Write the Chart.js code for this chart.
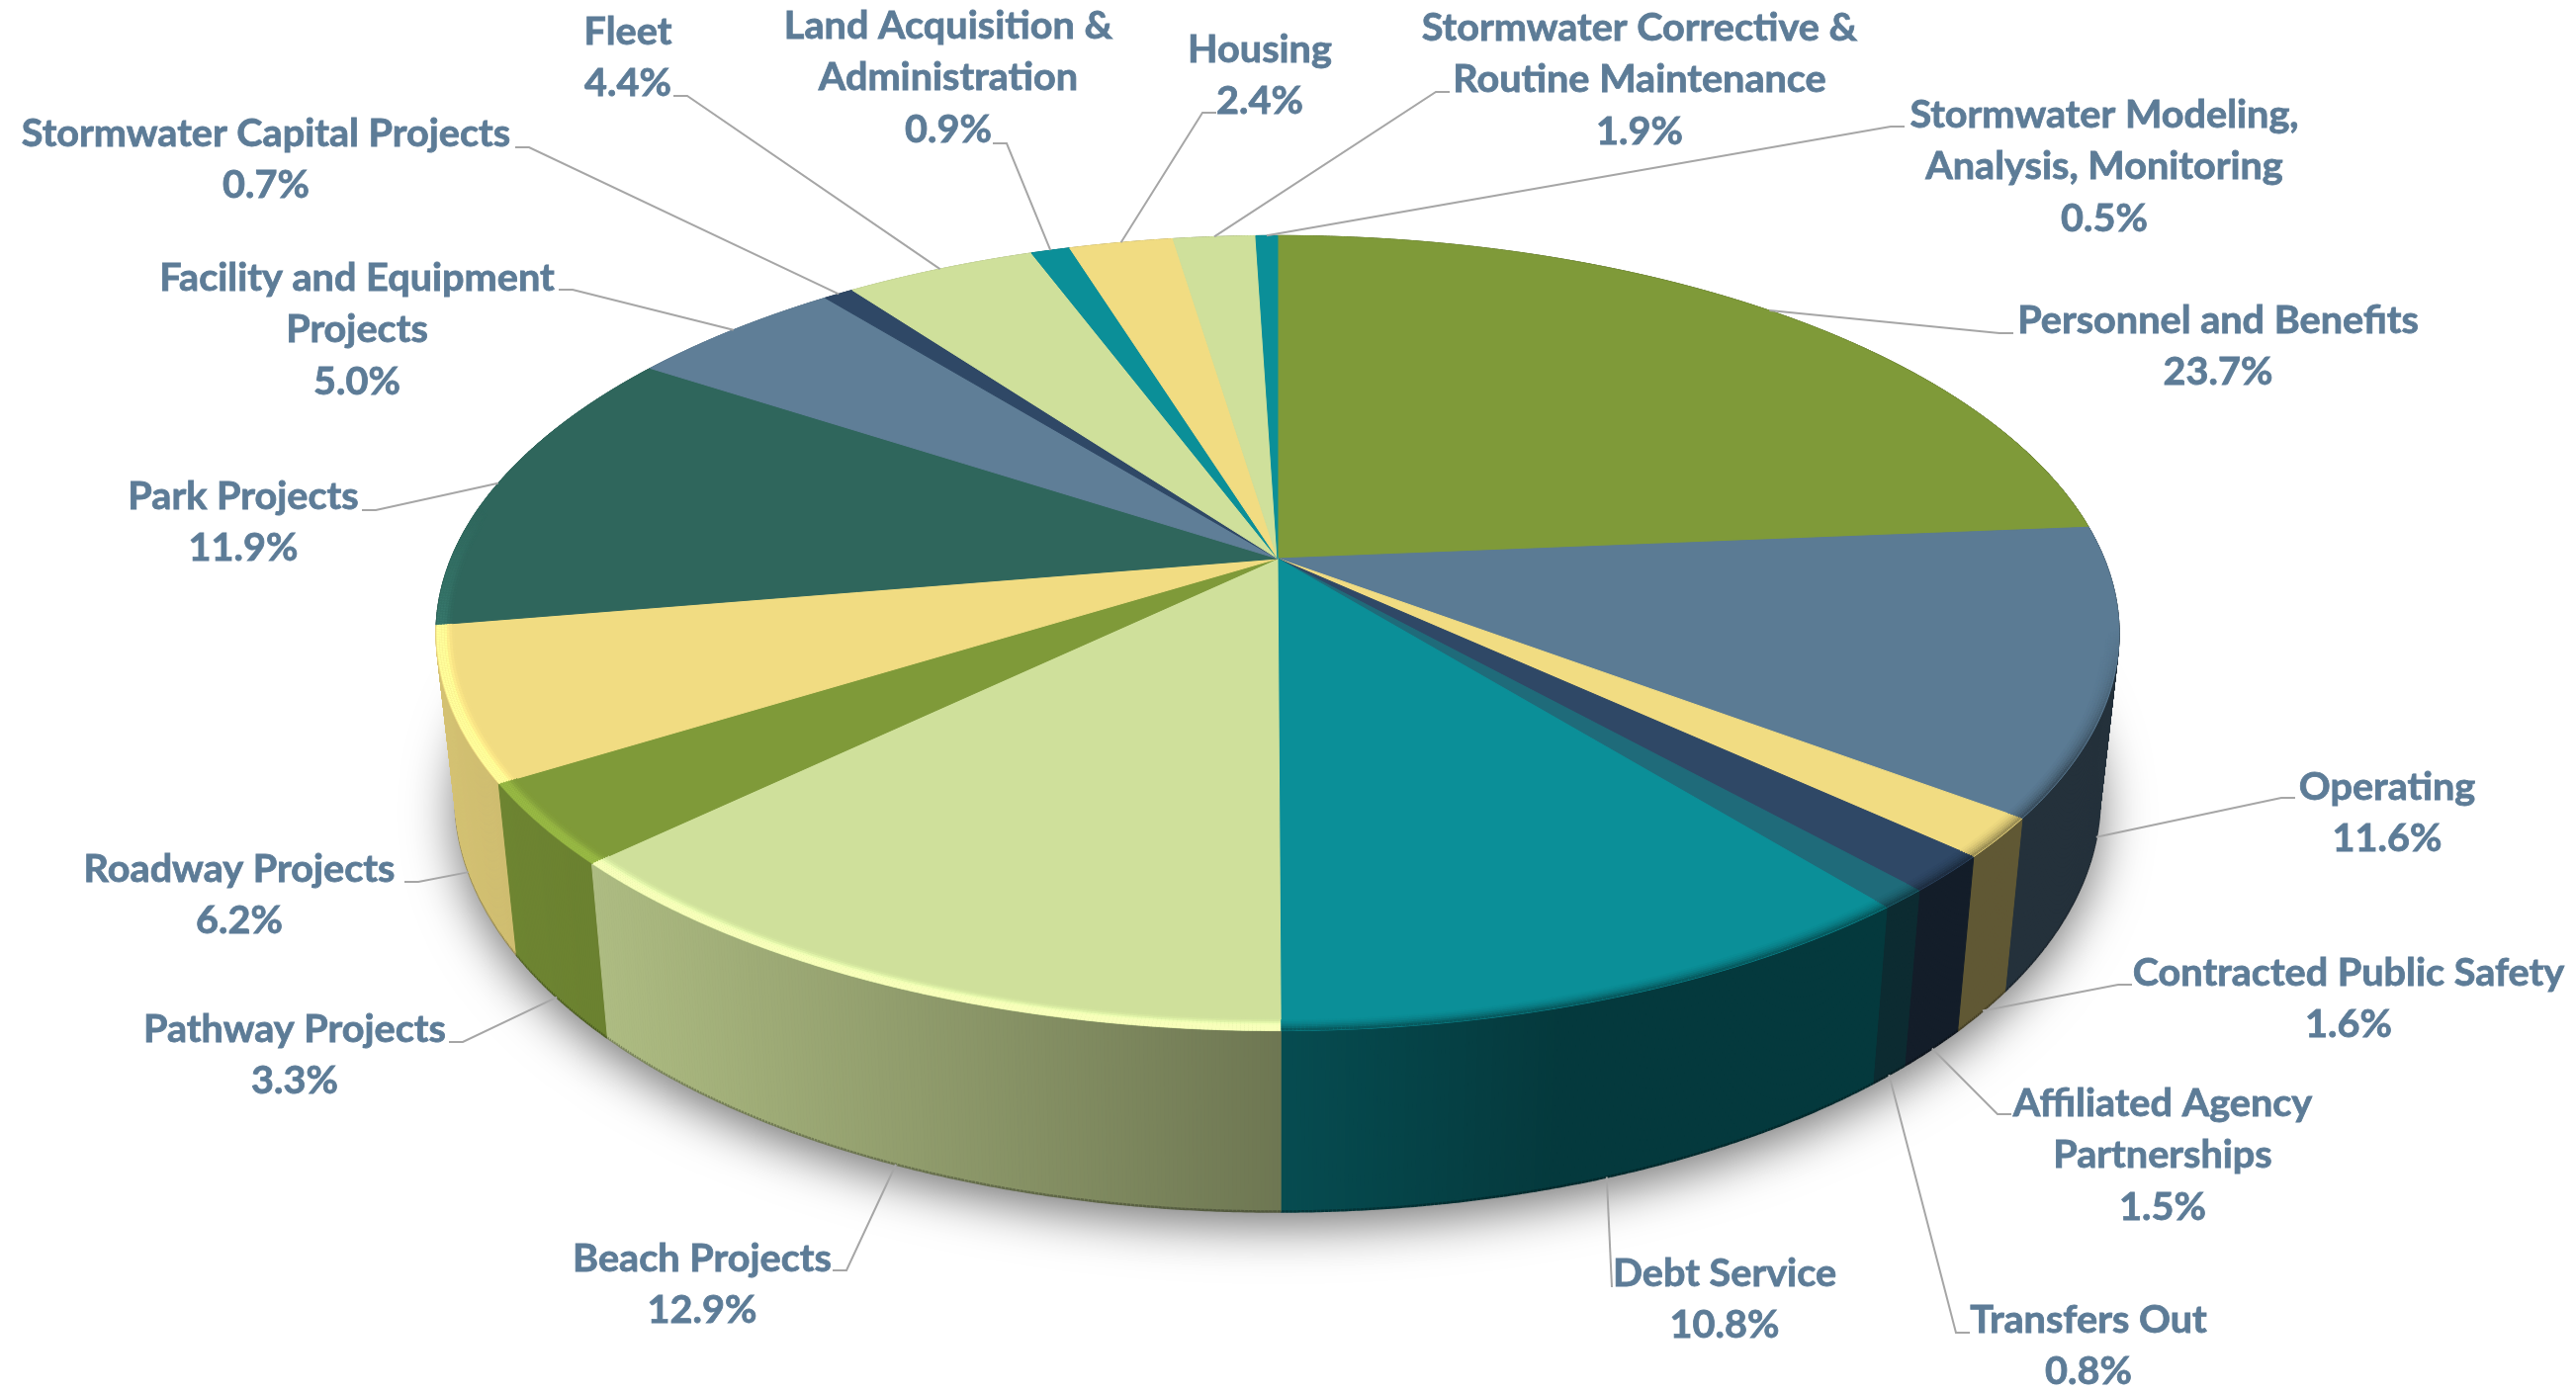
<!DOCTYPE html>
<html>
<head>
<meta charset="utf-8">
<title>Expenditures pie</title>
<script src="https://cdn.jsdelivr.net/npm/chart.js@4"></script>
<style>
  html, body { margin: 0; padding: 0; background: #ffffff; }
  #wrap { width: 2605px; height: 1407px; position: relative; }
</style>
</head>
<body>
<div id="wrap"><canvas id="myChart"></canvas></div>
<script>
// DATA
const categories = [
  "Personnel and Benefits",
  "Operating",
  "Contracted Public Safety",
  "Affiliated Agency\nPartnerships",
  "Transfers Out",
  "Debt Service",
  "Beach Projects",
  "Pathway Projects",
  "Roadway Projects",
  "Park Projects",
  "Facility and Equipment\nProjects",
  "Stormwater Capital Projects",
  "Fleet",
  "Land Acquisition &\nAdministration",
  "Housing",
  "Stormwater Corrective &\nRoutine Maintenance",
  "Stormwater Modeling,\nAnalysis, Monitoring",
];
const shares = [23.7, 11.6, 1.6, 1.5, 0.8, 10.8, 12.9, 3.3, 6.2, 11.9, 5.0, 0.7, 4.4, 0.9, 2.4, 1.9, 0.5];
const sliceColors = [
  "#7f9a39", "#5b7b94", "#f1dc82", "#2f4866", "#1f6b7a", "#0b8f98",
  "#cfe09b", "#7f9a39", "#f1dc82", "#2f665c", "#5f7e97", "#2f4866",
  "#cfe09b", "#0b8f98", "#f1dc82", "#cfe09b", "#0b8f98",
];

// LAYOUT of the labels, same order as categories: centre x, first line y
const labelX = [2243, 2414, 2375, 2187, 2112, 1744, 710, 298, 242, 246, 361, 269, 635, 959, 1274, 1658, 2128];
const labelY = [324, 796, 984, 1116, 1335, 1288, 1273, 1041, 879, 502, 281, 135, 32, 26, 50, 28, 116];
// leader elbow x, y and which way the short stub runs
const elbowX = [2022, 2307, 2142, 2020, 1978, 1630, 856, 468, 423, 380, 579, 535, 695, 1018, 1216, 1452, 1912];
const elbowY = [337, 807, 996, 1127, 1348, 1302, 1285, 1054, 892, 516, 293, 149, 97, 145, 114, 93, 128];
const stubDir = [1, 1, 1, 1, 1, 0, -1, -1, -1, -1, -1, -1, -1, -1, 1, 1, 1];

const LINE_HEIGHT = 52.5;
const TEXT_COLOR = "#5d7c97";
const TEXT_SQUEEZE = 1.016;

// perspective of the tilted disc, relative to the pie radius chart.js gives us
const SCALE_X = 1.4796;
const SCALE_Y = 0.6867;
const TILT = 0.1876;
const BOTTOM_SHRINK = 0.977;

function project(arc, angle, rho) {
  const u = Math.cos(angle) * rho;
  const v = Math.sin(angle) * rho;
  const w = 1 - TILT * v;
  return {
    x: arc.x + (arc.outerRadius * SCALE_X * u) / w,
    y: arc.y + (arc.outerRadius * SCALE_Y * v) / w,
  };
}

function projectBottom(arc, angle) {
  const p = project(arc, angle, 1);
  return {
    x: arc.x + (p.x - arc.x) * BOTTOM_SHRINK,
    y: p.y + 173 + 0.04 * (p.y - 794),
  };
}

function rgbOf(hex) {
  return [1, 3, 5].map((i) => parseInt(hex.substr(i, 2), 16));
}

function shade(hex, f) {
  const c = rgbOf(hex).map((n) => Math.min(255, Math.round(n * f)));
  return `rgb(${c[0]}, ${c[1]}, ${c[2]})`;
}

// side wall gets darker going left to right
const wallStopsX = [440, 600, 1297, 1578, 2143];
const wallStopsF = [0.88, 0.84, 0.53, 0.4, 0.4];
function wallFactor(x) {
  if (x <= wallStopsX[0]) return wallStopsF[0];
  for (let i = 1; i < wallStopsX.length; i++) {
    if (x <= wallStopsX[i]) {
      const t = (x - wallStopsX[i - 1]) / (wallStopsX[i] - wallStopsX[i - 1]);
      return wallStopsF[i - 1] + t * (wallStopsF[i] - wallStopsF[i - 1]);
    }
  }
  return wallStopsF[wallStopsF.length - 1];
}

function sliceSteps(arc) {
  const n = Math.max(2, Math.ceil((arc.endAngle - arc.startAngle) / 0.004));
  const list = [];
  for (let i = 0; i <= n; i++) {
    list.push(arc.startAngle + ((arc.endAngle - arc.startAngle) * i) / n);
  }
  return list;
}

function drawShadow(ctx, arc) {
  ctx.save();
  ctx.shadowColor = "rgba(0, 0, 0, 0.55)";
  ctx.shadowBlur = 50;
  ctx.shadowOffsetY = 14;
  ctx.fillStyle = "#777777";
  ctx.beginPath();
  for (let a = 0; a < Math.PI * 2; a += 0.02) {
    const p = projectBottom(arc, a);
    if (a === 0) ctx.moveTo(p.x, p.y);
    else ctx.lineTo(p.x, p.y);
  }
  ctx.closePath();
  ctx.fill();
  ctx.restore();
}

function drawWalls(ctx, arcs) {
  const quads = [];
  arcs.forEach((arc) => {
    const steps = sliceSteps(arc);
    for (let i = 0; i < steps.length - 1; i++) {
      quads.push({ a: steps[i], b: steps[i + 1], color: arc.options.backgroundColor, arc: arc });
    }
  });
  quads.sort((q1, q2) => Math.sin(q1.a) - Math.sin(q2.a));
  ctx.lineWidth = 1;
  quads.forEach((q) => {
    const t1 = project(q.arc, q.a, 1);
    const t2 = project(q.arc, q.b, 1);
    const b1 = projectBottom(q.arc, q.a);
    const b2 = projectBottom(q.arc, q.b);
    const col = shade(q.color, wallFactor(t1.x));
    ctx.fillStyle = col;
    ctx.strokeStyle = col;
    ctx.beginPath();
    ctx.moveTo(t1.x, t1.y);
    ctx.lineTo(t2.x, t2.y);
    ctx.lineTo(b2.x, b2.y);
    ctx.lineTo(b1.x, b1.y);
    ctx.closePath();
    ctx.fill();
    ctx.stroke();
    // darker line along the foot of the wall
    if (Math.sin(q.a) > -0.1) {
      ctx.save();
      ctx.strokeStyle = shade(q.color, wallFactor(t1.x) * 0.72);
      ctx.lineWidth = 2.5;
      ctx.beginPath();
      ctx.moveTo(b1.x, b1.y);
      ctx.lineTo(b2.x, b2.y);
      ctx.stroke();
      ctx.restore();
    }
  });
}

function drawTop(ctx, arcs) {
  arcs.forEach((arc) => {
    const col = arc.options.backgroundColor;
    ctx.fillStyle = col;
    ctx.strokeStyle = col;
    ctx.lineWidth = 1;
    ctx.beginPath();
    ctx.moveTo(arc.x, arc.y);
    sliceSteps(arc).forEach((a) => {
      const p = project(arc, a, 1);
      ctx.lineTo(p.x, p.y);
    });
    ctx.closePath();
    ctx.fill();
    ctx.stroke();
  });
}

// how much the bevel lifts (>1) or darkens (<1) the rim at this clock angle
function bevelFactor(angle, rho) {
  let deg = ((angle + Math.PI / 2) * 180) / Math.PI;
  deg = ((deg % 360) + 360) % 360;
  const depth = 1 - (1 - rho) / 0.022; // 1 at the edge, 0 at the inner end
  if (deg >= 179.7 && deg <= 278) {
    const fade = deg > 258 ? (278 - deg) / 20 : 1;
    const peak = depth > 0.55 ? 1 : depth / 0.55;
    return 1 + 0.2 * fade * peak * peak;
  }
  if (deg >= 100 && deg < 179.7) {
    const fade = deg < 120 ? (deg - 100) / 20 : 1;
    return 1 - 0.45 * fade * depth * depth;
  }
  return 1;
}

function drawBevel(ctx, arcs) {
  const rings = [0.98, 0.983, 0.986, 0.989, 0.992, 0.995, 0.998];
  ctx.lineWidth = 2.6;
  rings.forEach((rho) => {
    arcs.forEach((arc) => {
      const steps = sliceSteps(arc);
      for (let i = 0; i < steps.length - 1; i++) {
        const f = bevelFactor(steps[i], rho);
        if (Math.abs(f - 1) < 0.005) continue;
        const p1 = project(arc, steps[i], rho);
        const p2 = project(arc, steps[i + 1], rho);
        ctx.strokeStyle = shade(arc.options.backgroundColor, f);
        ctx.beginPath();
        ctx.moveTo(p1.x, p1.y);
        ctx.lineTo(p2.x, p2.y);
        ctx.stroke();
      }
    });
  });
}

function drawLabels(ctx, arcs) {
  arcs.forEach((arc, i) => {
    const mid = (arc.startAngle + arc.endAngle) / 2;
    const anchor = Math.sin(mid) > -0.05 ? projectBottom(arc, mid) : project(arc, mid, 1);
    ctx.strokeStyle = "#a6a6a6";
    ctx.lineWidth = 2;
    ctx.beginPath();
    ctx.moveTo(elbowX[i] + stubDir[i] * 14, elbowY[i]);
    ctx.lineTo(elbowX[i], elbowY[i]);
    ctx.lineTo(anchor.x, anchor.y);
    ctx.stroke();

    const lines = categories[i].split("\n");
    lines.push(shares[i].toFixed(1) + "%");
    ctx.fillStyle = TEXT_COLOR;
    ctx.strokeStyle = TEXT_COLOR;
    ctx.lineWidth = 0.8;
    ctx.font = "bold 39px Lato";
    ctx.textAlign = "center";
    ctx.textBaseline = "middle";
    lines.forEach((line, k) => {
      ctx.save();
      ctx.translate(labelX[i], labelY[i] + k * LINE_HEIGHT);
      ctx.scale(TEXT_SQUEEZE, 1);
      ctx.fillText(line, 0, 0);
      ctx.strokeText(line, 0, 0);
      ctx.restore();
    });
  });
}

const tiltedPie = {
  id: "tiltedPie",
  beforeDatasetsDraw(chart) {
    const ctx = chart.ctx;
    const arcs = chart.getDatasetMeta(0).data;
    ctx.save();
    drawShadow(ctx, arcs[0]);
    drawWalls(ctx, arcs);
    drawTop(ctx, arcs);
    drawBevel(ctx, arcs);
    drawLabels(ctx, arcs);
    ctx.restore();
    return false;
  },
};

const myChart = new Chart(document.getElementById("myChart"), {
  type: "pie",
  data: {
    labels: categories,
    datasets: [
      {
        data: shares,
        backgroundColor: sliceColors,
        borderWidth: 0,
      },
    ],
  },
  options: {
    responsive: true,
    maintainAspectRatio: false,
    animation: false,
    layout: { padding: { left: 0, right: 21, top: 0, bottom: 277 } },
    plugins: {
      legend: { display: false },
      tooltip: { enabled: false },
    },
  },
  plugins: [tiltedPie],
});
</script>
</body>
</html>
